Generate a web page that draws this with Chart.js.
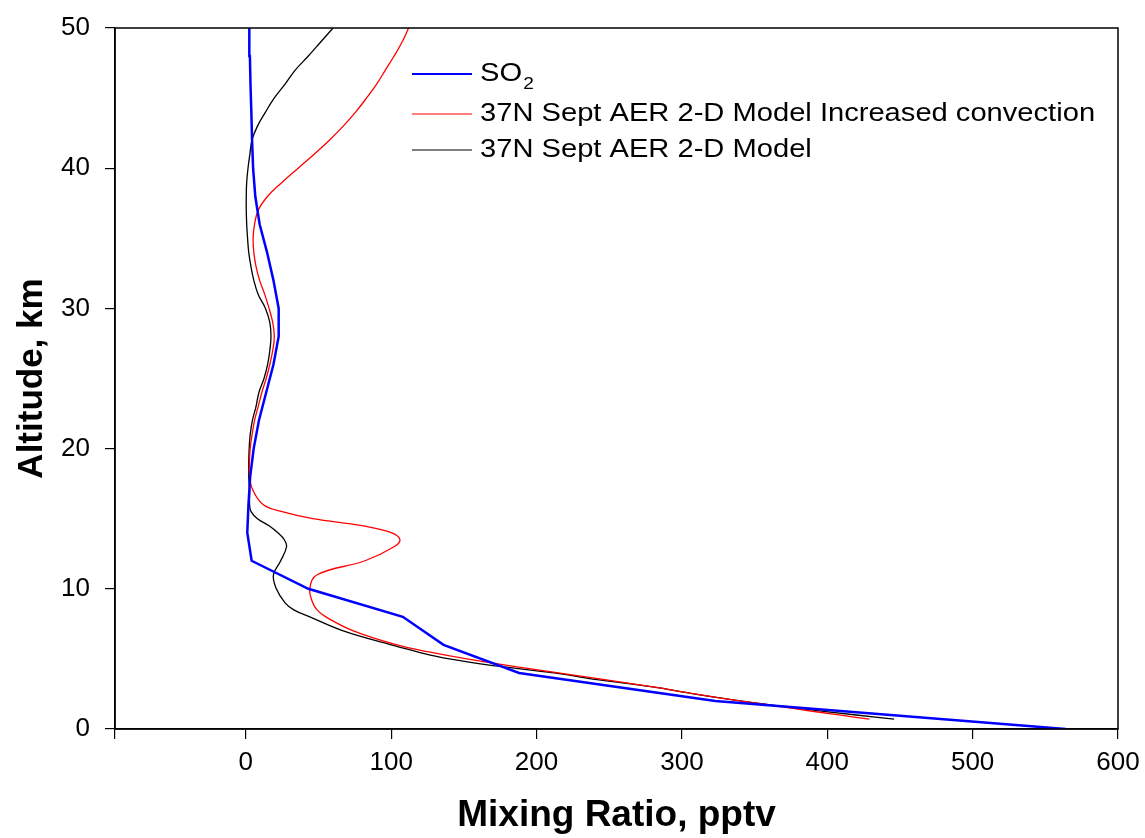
<!DOCTYPE html>
<html>
<head>
<meta charset="utf-8">
<title>SO2 profile vs AER 2-D model</title>
<script src="https://cdn.jsdelivr.net/npm/chart.js@4.4.0/dist/chart.umd.min.js"></script>
<style>
    html, body { margin: 0; padding: 0; background: #ffffff; }
    #wrap { width: 1145px; height: 838px; }
</style>
</head>
<body>
<div id="wrap"><canvas id="profileChart" width="1145" height="838"></canvas></div>
<script>
// Altitude (km) / mixing ratio (pptv)
const so2Altitude = [0, 2, 4, 6, 8, 10, 12, 14, 16, 18, 20, 22, 24, 26, 28, 30, 32, 34, 36, 38, 40, 42, 44, 46, 48, 50];
const so2Mixing = [564, 323, 188, 136, 108, 43, 4, 1, 1.8, 3, 5.4, 9, 14, 19, 22.6, 22.6, 19, 14.6, 9.5, 6.5, 5, 4.3, 3.8, 3.2, 2.8, 2.4];

const modelAltitude = [0.7, 1, 1.5, 2, 2.5, 3, 3.5, 4, 4.5, 5, 5.5, 6, 7, 8, 8.5, 9, 10, 11, 12, 13, 13.5, 14, 14.5, 15, 15.5, 16, 17, 18, 19, 20,
    21, 22, 23, 24, 25, 26, 27, 28, 29, 30, 31, 32, 33, 34, 35, 36, 37, 38, 39, 40, 41, 42, 43, 44, 45, 46, 47, 48, 49, 50];
const convectionMixing = [429, 408, 374, 340, 309, 280, 248, 215, 182, 152, 126, 104, 74, 55, 49, 46, 44, 49, 82, 102, 106, 100, 80, 46, 25, 12,
    5, 2.5, 2.5, 3, 4.3, 6, 8.5, 11, 14, 16.5, 18.5, 19.6, 18.5, 16, 13, 9.5, 7, 5.5, 5, 6, 8.5, 15, 25, 36,
    47, 57.5, 67, 75.5, 83, 90, 96, 102, 107.5, 112];
const modelMixing = [446, 420, 378, 340, 308, 280, 243, 212, 172, 140, 118, 100, 67, 44, 33, 27, 21, 19, 24, 28, 26.5, 22, 16, 8, 3.6, 2.6,
    2.6, 2, 2, 2.3, 3, 4.5, 7, 9, 12.5, 15, 16.5, 17.3, 16.5, 13.5, 8.5, 5.5, 3.5, 2, 1.2, 0.6, 0.3, 0.3, 0.6, 1.5,
    2.8, 4.2, 8, 13.5, 19.5, 27, 34, 43, 51.5, 60];

const seriesLabels = ['SO₂', '37N Sept AER 2-D Model Increased convection', '37N Sept AER 2-D Model'];
const seriesColors = ['#0000ff', '#ff0000', '#000000'];

const xTicks = [0, 100, 200, 300, 400, 500, 600];
const yTicks = [0, 10, 20, 30, 40, 50];

const FONT = '"Liberation Sans", Arial, Helvetica, sans-serif';

const ProfileChart = {
    init() {
        this.render();
    },

    toPoints(xs, ys) {
        return xs.map((x, i) => ({ x: x, y: ys[i] }));
    },

    // legend sits inside the plot frame, drawn by hand so SO2 gets a subscript
    legendPlugin: {
        id: 'insideLegend',
        afterDatasetsDraw(chart) {
            const ctx = chart.ctx;
            const area = chart.chartArea;
            const rows = [46, 86, 122];
            const x0 = area.left + 297;
            chart.data.datasets.forEach((ds, i) => {
                const y = area.top + rows[i];
                ctx.save();
                ctx.strokeStyle = ds.borderColor;
                ctx.lineWidth = i === 0 ? 2 : 1.2;
                ctx.beginPath();
                ctx.moveTo(x0, y);
                ctx.lineTo(x0 + 60, y);
                ctx.stroke();

                // the source font runs a little wide
                ctx.translate(x0 + 68, y);
                ctx.scale(1.12, 1);
                ctx.fillStyle = '#000';
                ctx.textBaseline = 'middle';
                ctx.font = '26px ' + FONT;
                const parts = ds.label.split('₂');
                ctx.fillText(parts[0], 0, 0);
                if (parts.length > 1) {
                    const w = ctx.measureText(parts[0]).width;
                    ctx.font = '17px ' + FONT;
                    ctx.fillText('2', w + 1, 10);
                }
                ctx.restore();
            });
        }
    },

    framePlugin: {
        id: 'plotFrame',
        afterDraw(chart) {
            const { ctx, chartArea } = chart;
            ctx.save();
            ctx.strokeStyle = '#000';
            ctx.lineWidth = 1.5;
            ctx.strokeRect(chartArea.left, chartArea.top, chartArea.right - chartArea.left, chartArea.bottom - chartArea.top);
            ctx.restore();
        }
    },

    render() {
        const ctx = document.getElementById('profileChart');

        const datasets = [
            { data: this.toPoints(so2Mixing, so2Altitude), borderWidth: 2.5, tension: 0 },
            { data: this.toPoints(convectionMixing, modelAltitude), borderWidth: 1.3, tension: 0.4 },
            { data: this.toPoints(modelMixing, modelAltitude), borderWidth: 1.3, tension: 0.4 }
        ].map((ds, i) => ({
            ...ds,
            label: seriesLabels[i],
            borderColor: seriesColors[i],
            backgroundColor: seriesColors[i],
            showLine: true,
            pointRadius: 0,
            fill: false
        }));

        this.chart = new Chart(ctx, {
            type: 'scatter',
            data: { datasets: datasets },
            options: {
                responsive: false,
                animation: false,
                layout: { padding: { top: 28, right: 27, left: 0, bottom: 0 } },
                plugins: {
                    legend: { display: false },
                    tooltip: { enabled: false }
                },
                scales: {
                    x: {
                        type: 'linear',
                        min: -90,
                        max: 600,
                        afterFit: (scale) => {
                            scale.height = 109;
                            scale.paddingLeft = 0;
                            scale.paddingRight = 0;
                        },
                        afterBuildTicks: (scale) => {
                            scale.ticks = [-90, ...xTicks].map(v => ({ value: v }));
                        },
                        ticks: {
                            color: '#000',
                            padding: 8,
                            maxRotation: 0,
                            font: { family: FONT, size: 26 },
                            callback: (v) => (v < 0 ? '' : v)
                        },
                        grid: { display: true, drawOnChartArea: false, drawTicks: true, tickLength: 10, color: '#000', lineWidth: 1.2 },
                        border: { display: true, color: '#000', width: 1.5 },
                        title: {
                            display: true,
                            text: 'Mixing Ratio, pptv',
                            color: '#000',
                            font: { family: FONT, size: 37, weight: 'bold' },
                            padding: { top: 0, bottom: 0 }
                        }
                    },
                    y: {
                        type: 'linear',
                        min: 0,
                        max: 50,
                        afterFit: (scale) => {
                            scale.width = 115;
                            scale.paddingTop = 0;
                            scale.paddingBottom = 0;
                        },
                        afterBuildTicks: (scale) => {
                            scale.ticks = yTicks.map(v => ({ value: v }));
                        },
                        ticks: {
                            color: '#000',
                            padding: 15,
                            font: { family: FONT, size: 26 }
                        },
                        grid: { display: true, drawOnChartArea: false, drawTicks: true, tickLength: 10, color: '#000', lineWidth: 1.2 },
                        border: { display: true, color: '#000', width: 1.5 },
                        title: {
                            display: true,
                            text: 'Altitude, km',
                            color: '#000',
                            font: { family: FONT, size: 35, weight: 'bold' },
                            padding: { top: 11, bottom: 0 }
                        }
                    }
                }
            },
            plugins: [this.legendPlugin, this.framePlugin]
        });
    }
};

document.addEventListener('DOMContentLoaded', function() {
    ProfileChart.init();
});
</script>
</body>
</html>
